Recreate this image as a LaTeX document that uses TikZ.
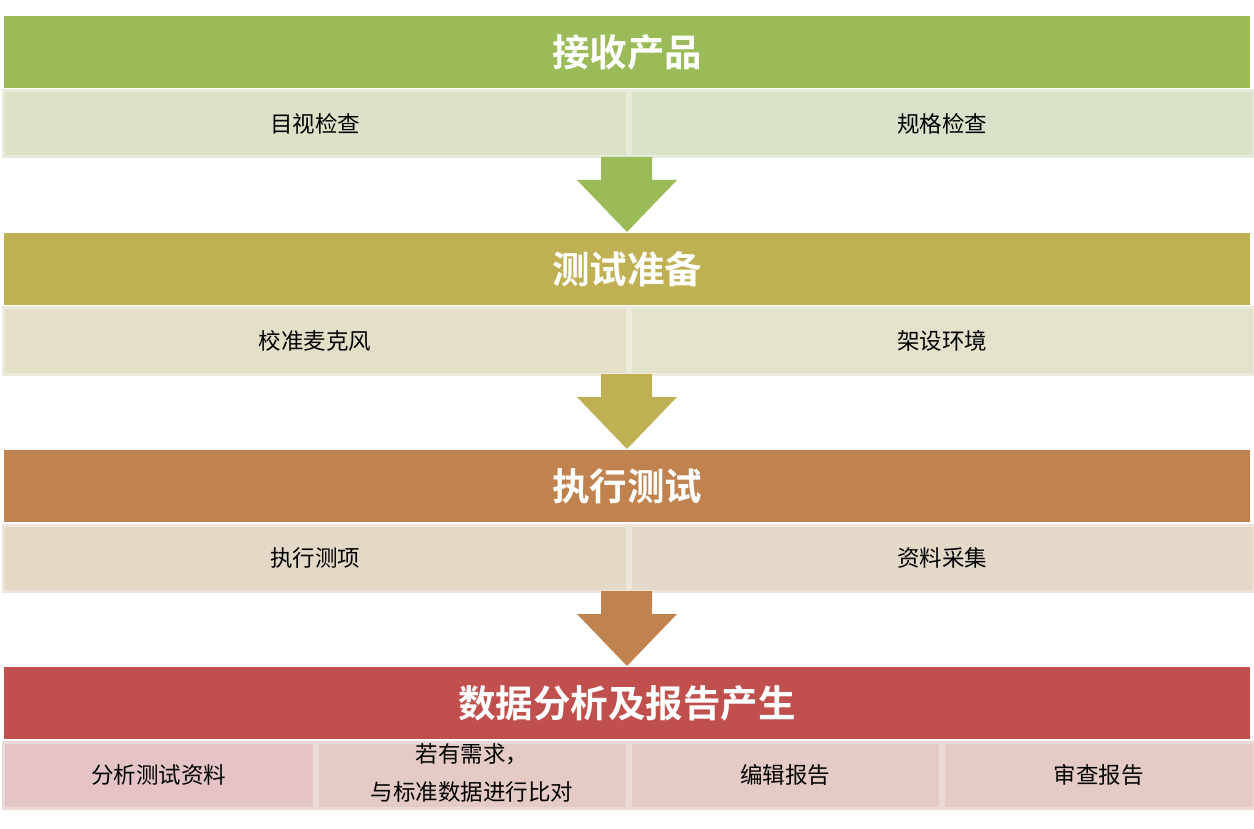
\documentclass[tikz,border=0pt]{standalone}
\usepackage{fontspec}
\newfontfamily\cjk{Noto Sans CJK SC}
\newfontfamily\cjkb{Noto Sans CJK SC Bold}
\definecolor{g1}{HTML}{9BBB59}\definecolor{g2}{HTML}{DBE2C7}\definecolor{g3}{HTML}{D8E2C9}\definecolor{gb}{HTML}{E6EBDA}
\definecolor{o1}{HTML}{BFB054}\definecolor{o2}{HTML}{E4E0C8}\definecolor{o3}{HTML}{E3E2CB}\definecolor{ob}{HTML}{EDEBDC}
\definecolor{b1}{HTML}{C0834F}\definecolor{b2}{HTML}{E4D8C7}\definecolor{b3}{HTML}{E4D9C9}\definecolor{bb}{HTML}{EDE5DA}
\definecolor{r1}{HTML}{C0504D}\definecolor{r2}{HTML}{E4C4C6}\definecolor{r3}{HTML}{E4CBC5}\definecolor{rb}{HTML}{EBDAD5}
\tikzset{
  hdr/.style={anchor=north west,inner sep=0pt,minimum height=72pt,minimum width=1246pt,text=white,font=\cjkb\fontsize{37.5}{40}\selectfont},
  cell/.style={anchor=north west,inner sep=0pt,line width=3pt,minimum height=66pt,font=\cjk\fontsize{22.5}{38}\selectfont,align=center},
}
\begin{document}
\begin{tikzpicture}[x=1pt,y=-1pt]
\useasboundingbox (0,0) rectangle (1254,829);
% stage 1
\node[hdr,fill=g1] (h1) at (4,16) {接收产品};
\node[cell,fill=g2,draw=gb,minimum width=624pt] (c11) at (1.5,89.5) {目视检查\rule[-2pt]{0pt}{1pt}};
\node[cell,fill=g3,draw=gb,minimum width=624pt] (c12) at (628.5,89.5) {规格检查\rule[-2pt]{0pt}{1pt}};
% stage 2
\node[hdr,fill=o1] (h2) at (4,233) {测试准备};
\node[cell,fill=o2,draw=ob,minimum width=624pt] (c21) at (1.5,306.5) {校准麦克风\rule[-2pt]{0pt}{1pt}};
\node[cell,fill=o3,draw=ob,minimum width=624pt] (c22) at (628.5,306.5) {架设环境\rule[-2pt]{0pt}{1pt}};
% stage 3
\node[hdr,fill=b1] (h3) at (4,450) {执行测试};
\node[cell,fill=b2,draw=bb,minimum width=624pt] (c31) at (1.5,523.5) {执行测项\rule[-2pt]{0pt}{1pt}};
\node[cell,fill=b3,draw=bb,minimum width=624pt] (c32) at (628.5,523.5) {资料采集\rule[-2pt]{0pt}{1pt}};
% stage 4
\node[hdr,fill=r1] (h4) at (4,667) {数据分析及报告产生};
\node[cell,fill=r2,draw=rb,minimum width=311pt] (c41) at (1.5,740.5) {分析测试资料\rule[-2pt]{0pt}{1pt}};
\node[cell,fill=r3,draw=rb,minimum width=310pt] (c42) at (315.5,740.5) {若有需求，\\与标准数据进行比对\rule[-6pt]{0pt}{1pt}};
\node[cell,fill=r3,draw=rb,minimum width=310pt] (c43) at (628.5,740.5) {编辑报告\rule[-2pt]{0pt}{1pt}};
\node[cell,fill=r3,draw=rb,minimum width=311pt] (c44) at (941.5,740.5) {审查报告\rule[-2pt]{0pt}{1pt}};
% arrows
\foreach \c/\y in {g1/157,o1/374,b1/591}{
  \fill[\c] (601,\y) -- (652,\y) -- (652,\y+23) -- (677,\y+23) -- (627,\y+75) -- (577,\y+23) -- (601,\y+23) -- cycle;
}
\end{tikzpicture}
\end{document}
